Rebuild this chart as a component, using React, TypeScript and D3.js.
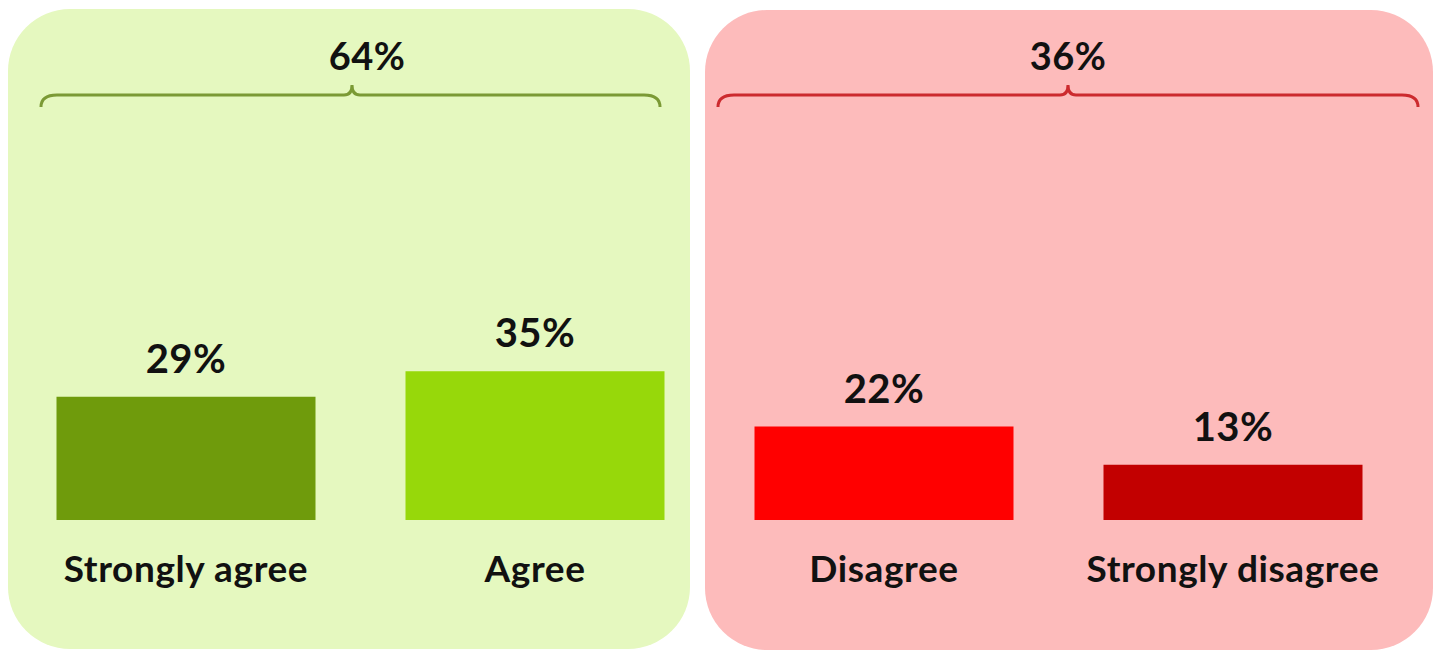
import React from "react";
import * as d3 from "d3";

const categories = ["Strongly agree", "Agree", "Disagree", "Strongly disagree"];
const values = [29, 35, 22, 13];
const barColors = ["#6f9b0c", "#97d80a", "#ff0000", "#c20000"];
const groupLabels = ["64%", "36%"];

const W = 1435;
const H = 655;

export default function App() {
  const baseY = 520;
  const y = d3.scaleLinear().domain([0, 100]).range([baseY, baseY - 425]);
  const x = d3.scalePoint<string>().domain(categories).range([186, 1233]);
  const barW = 259;

  const panels = [
    { x: 8, y: 9, w: 682, h: 640, fill: "#e5f8bf", brace: "#7b9a35", bx0: 41, bx1: 660, tip: 352, tx: 367 },
    { x: 705, y: 10, w: 728, h: 640, fill: "#fdbbbb", brace: "#cc2a2e", bx0: 718, bx1: 1418, tip: 1068, tx: 1068 },
  ];

  const bracePath = (x0: number, x1: number, tip: number, yL: number) => {
    const r = 10;
    return [
      `M${x0},${yL + 12}`,
      `Q${x0},${yL} ${x0 + r + 6},${yL}`,
      `L${tip - 8},${yL}`,
      `Q${tip},${yL} ${tip},${yL - 10}`,
      `Q${tip},${yL} ${tip + 8},${yL}`,
      `L${x1 - r - 6},${yL}`,
      `Q${x1},${yL} ${x1},${yL + 12}`,
    ].join(" ");
  };

  const font = "Lato, 'Open Sans', sans-serif";

  return (
    <svg width={W} height={H} style={{ position: "absolute", left: 0, top: 0 }}>
      <rect x={0} y={0} width={W} height={H} fill="#ffffff" />
      {panels.map((p, i) => (
        <g key={i}>
          <rect x={p.x} y={p.y} width={p.w} height={p.h} rx={62} ry={62} fill={p.fill} />
          <path d={bracePath(p.bx0, p.bx1, p.tip, 95)} fill="none" stroke={p.brace} strokeWidth={3} />
          <text x={p.tx} y={70} textAnchor="middle" fontFamily={font} fontWeight={700} fontSize={38} letterSpacing={0.5} fill="#111">
            {groupLabels[i]}
          </text>
        </g>
      ))}
      {categories.map((c, i) => {
        const cx = x(c)!;
        return (
          <g key={c}>
            <rect x={cx - barW / 2} y={y(values[i])} width={barW} height={baseY - y(values[i])} fill={barColors[i]} />
            <text x={cx} y={y(values[i]) - 24} textAnchor="middle" fontFamily={font} fontWeight={700} fontSize={40} letterSpacing={0.5} fill="#111">
              {values[i]}%
            </text>
            <text x={cx} y={582} textAnchor="middle" fontFamily={font} fontWeight={700} fontSize={37} letterSpacing={0.6} fill="#111">
              {c}
            </text>
          </g>
        );
      })}
    </svg>
  );
}
